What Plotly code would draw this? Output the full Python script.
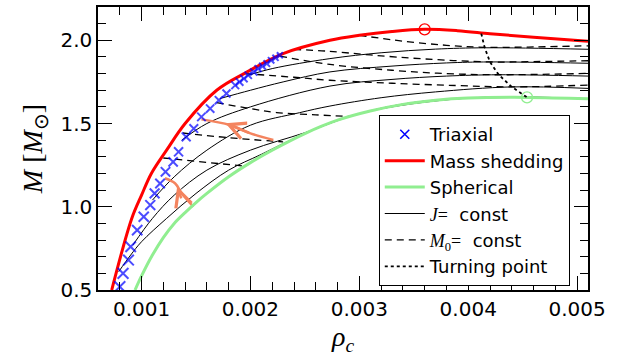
import plotly.graph_objects as go

# ---------------- data ----------------
tri_rho = [0.00080, 0.00083, 0.00088, 0.00090, 0.00096, 0.00102, 0.00108, 0.00112,
           0.00117, 0.00122, 0.00129, 0.00134, 0.00141, 0.00148, 0.00155, 0.00163,
           0.00171, 0.00178, 0.00186, 0.00190, 0.00194, 0.00198, 0.00203, 0.00207,
           0.00211, 0.00215, 0.00219, 0.00223, 0.00227]
tri_M = [0.52, 0.60, 0.68, 0.76, 0.86, 0.94, 1.01, 1.08,
         1.14, 1.21, 1.27, 1.33, 1.42, 1.47, 1.54, 1.59,
         1.64, 1.68, 1.73, 1.75, 1.77, 1.79, 1.81, 1.83,
         1.845, 1.86, 1.88, 1.895, 1.91]

ms_rho = [0.000726, 0.00091, 0.00100, 0.00109, 0.00123, 0.00140, 0.00169, 0.00197,
          0.00230, 0.00273, 0.00300, 0.00330, 0.00360, 0.00390, 0.00420, 0.00460, 0.00510]
ms_M = [0.50, 0.93, 1.07, 1.20, 1.34, 1.50, 1.70, 1.81,
        1.92, 2.00, 2.03, 2.053, 2.066, 2.058, 2.04, 2.018, 1.995]

sph_rho = [0.00094, 0.00100, 0.00110, 0.00120, 0.00130, 0.00140, 0.00150, 0.00160,
           0.00180, 0.00200, 0.00220, 0.00250, 0.00280, 0.00310, 0.00340, 0.00370,
           0.00400, 0.00454, 0.00510]
sph_M = [0.50, 0.585, 0.71, 0.815, 0.90, 0.965, 1.025, 1.08,
         1.18, 1.265, 1.34, 1.44, 1.52, 1.575, 1.615, 1.640,
         1.653, 1.657, 1.649]

# J = const sequences (solid)
J_rho = [
    [0.00079, 0.0009, 0.0010, 0.00123, 0.0015, 0.0018, 0.0021, 0.0025, 0.0030, 0.0040, 0.0051],
    [0.00092, 0.0011, 0.0013, 0.0016, 0.0020, 0.0025, 0.0030, 0.0036, 0.0045, 0.0051],
    [0.00110, 0.0013, 0.0016, 0.0020, 0.00245, 0.00273, 0.0032, 0.0037, 0.0044, 0.0051],
    [0.00137, 0.0016, 0.0020, 0.00273, 0.0033, 0.0038, 0.00428, 0.0051],
    [0.00172, 0.0020, 0.0023, 0.00273, 0.0033, 0.0038, 0.0042, 0.0051],
    [0.00198, 0.0022, 0.00273, 0.0032, 0.0037, 0.00416, 0.0051],
]
J_M = [
    [0.61, 0.71, 0.79, 0.93, 1.08, 1.22, 1.315, 1.44, 1.56, 1.653, 1.649],
    [0.77, 0.93, 1.07, 1.22, 1.34, 1.445, 1.56, 1.635, 1.657, 1.649],
    [1.04, 1.18, 1.34, 1.49, 1.565, 1.605, 1.655, 1.69, 1.72, 1.711],
    [1.40, 1.50, 1.60, 1.725, 1.765, 1.785, 1.793, 1.785],
    [1.65, 1.70, 1.75, 1.81, 1.845, 1.864, 1.870, 1.862],
    [1.79, 1.83, 1.89, 1.925, 1.947, 1.955, 1.946],
]

# M0 = const sequences (dashed)
M0_rho = [
    [0.0030, 0.0034, 0.0038, 0.00415, 0.0046, 0.0051],
    [0.0024, 0.0027, 0.0031, 0.0036, 0.0042, 0.0046, 0.0051],
    [0.00227, 0.00273, 0.0033, 0.0038, 0.00428, 0.0051],
    [0.00195, 0.0024, 0.00273, 0.0033, 0.0039, 0.0044, 0.0051],
    [0.00169, 0.0020, 0.00224, 0.0026, 0.00291],
    [0.00138, 0.0018, 0.0023],
    [0.00120, 0.00193],
]
M0_M = [
    [2.030, 1.995, 1.970, 1.958, 1.960, 1.967],
    [1.945, 1.935, 1.912, 1.888, 1.870, 1.872, 1.877],
    [1.905, 1.855, 1.820, 1.800, 1.793, 1.801],
    [1.800, 1.778, 1.760, 1.742, 1.728, 1.720, 1.731],
    [1.625, 1.590, 1.566, 1.552, 1.543],
    [1.443, 1.415, 1.390],
    [1.293, 1.245],
]

turn_rho = [0.00412, 0.00415, 0.00420, 0.00428, 0.00440, 0.00454]
turn_M = [2.040, 1.958, 1.870, 1.793, 1.720, 1.657]

peak_ms = (0.00360, 2.066)
peak_sph = (0.00454, 1.657)

arrow1_rho = [0.00221, 0.00200, 0.00181, 0.00155]
arrow1_M = [1.401, 1.441, 1.491, 1.525]
arrow2_rho = [0.001475, 0.001369, 0.001307, 0.001215]
arrow2_M = [1.00, 1.081, 1.141, 1.171]

x_ticks = [0.001, 0.002, 0.003, 0.004, 0.005]
x_ticklabels = ["0.001", "0.002", "0.003", "0.004", "0.005"]
y_ticks = [0.5, 1.0, 1.5, 2.0]
y_ticklabels = ["0.5", "1.0", "1.5", "2.0"]

# ---------------- figure ----------------
fig = go.Figure()
ARROW = "#f4845f"
GREEN = "#90ee90"

for xr, yr in zip(J_rho, J_M):
    fig.add_trace(go.Scatter(x=xr, y=yr, mode="lines", line=dict(color="black", width=1, shape="spline"),
                             showlegend=False, hoverinfo="skip"))
for xr, yr in zip(M0_rho, M0_M):
    fig.add_trace(go.Scatter(x=xr, y=yr, mode="lines",
                             line=dict(color="black", width=1.3, dash="7px,5px", shape="spline"),
                             showlegend=False, hoverinfo="skip"))

fig.add_trace(go.Scatter(x=arrow1_rho, y=arrow1_M, mode="lines", line=dict(color=ARROW, width=2.5, shape="spline"),
                         showlegend=False, hoverinfo="skip"))
fig.add_trace(go.Scatter(x=arrow2_rho, y=arrow2_M, mode="lines", line=dict(color=ARROW, width=2.5, shape="spline"),
                         showlegend=False, hoverinfo="skip"))

fig.add_trace(go.Scatter(x=sph_rho, y=sph_M, mode="lines", line=dict(color=GREEN, width=3, shape="spline"),
                         showlegend=False, hoverinfo="skip"))
fig.add_trace(go.Scatter(x=ms_rho, y=ms_M, mode="lines", line=dict(color="red", width=3, shape="spline"),
                         showlegend=False, hoverinfo="skip"))
fig.add_trace(go.Scatter(x=turn_rho, y=turn_M, mode="lines", line=dict(color="black", width=1.8, dash="dot"),
                         showlegend=False, hoverinfo="skip"))

n = len(tri_rho)
sizes = [11 - 5 * k / (n - 1) for k in range(n)]
fig.add_trace(go.Scatter(x=tri_rho, y=tri_M, mode="markers",
                         marker=dict(symbol="x-thin", size=sizes, color="blue", line=dict(color="blue", width=2)),
                         showlegend=False, hoverinfo="skip"))

fig.add_trace(go.Scatter(x=[peak_ms[0]], y=[peak_ms[1]], mode="markers",
                         marker=dict(symbol="circle-open", size=11, color="red", line=dict(width=1.3)),
                         showlegend=False, hoverinfo="skip"))
fig.add_trace(go.Scatter(x=[peak_sph[0]], y=[peak_sph[1]], mode="markers",
                         marker=dict(symbol="circle-open", size=11, color=GREEN, line=dict(width=1.3)),
                         showlegend=False, hoverinfo="skip"))

# legend-only traces
fig.add_trace(go.Scatter(x=[None], y=[None], mode="markers", name="Triaxial",
                         marker=dict(symbol="x-thin", size=9, color="blue", line=dict(color="blue", width=1.5))))
fig.add_trace(go.Scatter(x=[None], y=[None], mode="lines", name="Mass shedding", line=dict(color="red", width=3)))
fig.add_trace(go.Scatter(x=[None], y=[None], mode="lines", name="Spherical", line=dict(color=GREEN, width=3)))
fig.add_trace(go.Scatter(x=[None], y=[None], mode="lines",
                         name="<span style='font-family:Liberation Serif'><i>J</i>=</span>  const",
                         line=dict(color="black", width=1)))
fig.add_trace(go.Scatter(x=[None], y=[None], mode="lines",
                         name="<span style='font-family:Liberation Serif'><i>M</i><sub>0</sub>=</span>  const",
                         line=dict(color="black", width=1.3, dash="7px,5px")))
fig.add_trace(go.Scatter(x=[None], y=[None], mode="lines", name="Turning point",
                         line=dict(color="black", width=1.8, dash="dot")))

# arrow heads
fig.add_annotation(x=arrow1_rho[2] - 0.00004, y=arrow1_M[2] + 0.01, ax=arrow1_rho[1], ay=arrow1_M[1],
                   xref="x", yref="y", axref="x", ayref="y", text="", showarrow=True,
                   arrowhead=5, arrowsize=1.3, arrowwidth=2.5, arrowcolor=ARROW, standoff=0)
fig.add_annotation(x=arrow2_rho[2] + 0.00002, y=arrow2_M[2] - 0.02, ax=arrow2_rho[1], ay=arrow2_M[1] - 0.04,
                   xref="x", yref="y", axref="x", ayref="y", text="", showarrow=True,
                   arrowhead=5, arrowsize=1.3, arrowwidth=2.5, arrowcolor=ARROW, standoff=0)

axis_common = dict(showgrid=False, zeroline=False, showline=True, linecolor="black", linewidth=1.5,
                   mirror="allticks", ticks="inside", ticklen=14, tickwidth=1, tickcolor="black",
                   tickfont=dict(family="DejaVu Sans", size=20, color="black"), automargin=False,
                   minor=dict(ticks="inside", ticklen=8, tickwidth=1, tickcolor="black"))

fig.update_xaxes(range=[0.0006, 0.0051], tickvals=x_ticks, ticktext=x_ticklabels,
                 minor_dtick=0.0002, minor_tick0=0.0,
                 title=dict(text="<i>ρ</i><sub><i>c</i></sub>", font=dict(family="Liberation Serif", size=28, color="black"),
                            standoff=6),
                 **axis_common)
fig.update_yaxes(range=[0.5, 2.2], tickvals=y_ticks, ticktext=y_ticklabels,
                 minor_dtick=0.1, minor_tick0=0.0,
                 title=dict(text="<i>M</i> [<i>M</i><sub>⊙</sub>]", font=dict(family="Liberation Serif", size=28, color="black"),
                            standoff=10),
                 **axis_common)

fig.update_layout(
    width=624, height=360,
    margin=dict(l=98, r=36, t=7, b=70),
    plot_bgcolor="white", paper_bgcolor="white",
    showlegend=True,
    legend=dict(x=0.573, y=0.618, xanchor="left", yanchor="top",
                bgcolor="white", bordercolor="black", borderwidth=1,
                font=dict(family="DejaVu Sans", size=18, color="black"),
                itemwidth=40, tracegroupgap=0),
)

fig.write_html("out.html", config={"displayModeBar": False},
               post_script="document.body.style.margin='0';")
